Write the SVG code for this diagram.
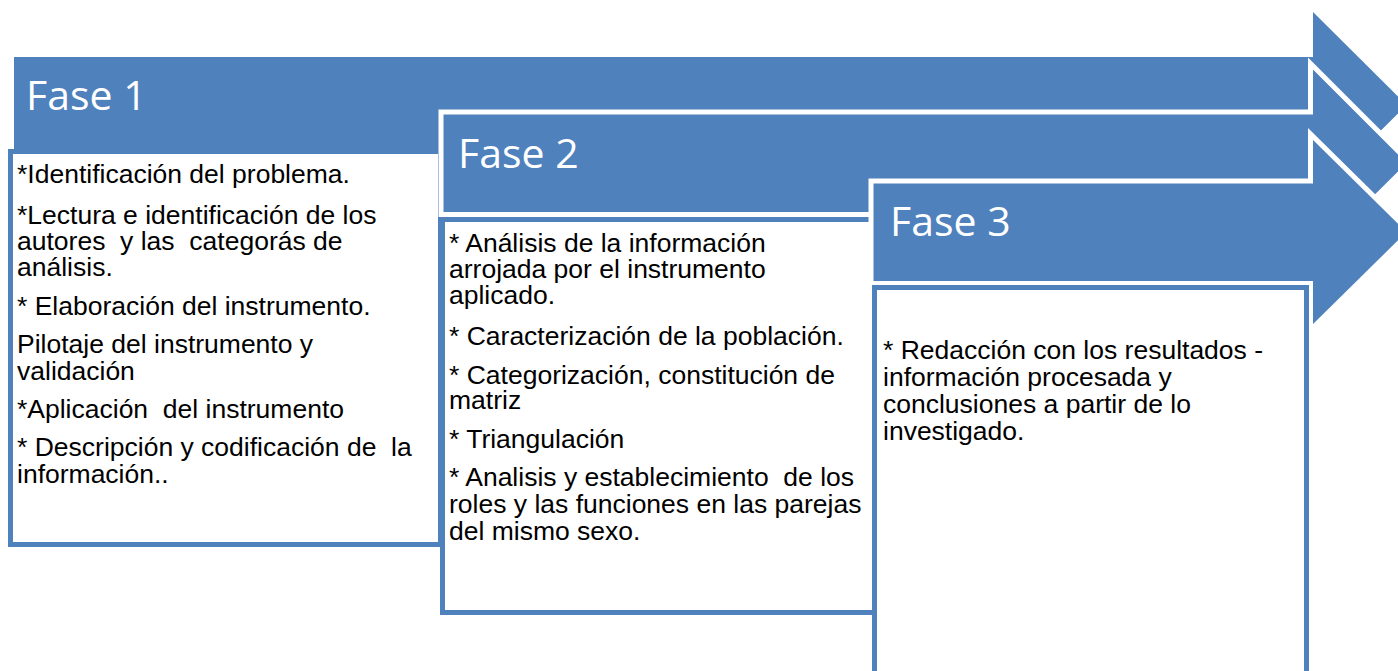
<svg xmlns="http://www.w3.org/2000/svg" width="1398" height="671" viewBox="0 0 1398 671">
<style>
.arrow{fill:#4F81BD;stroke:#FFFFFF;stroke-width:5;stroke-linejoin:miter}
.box{fill:#FFFFFF;stroke:#4F81BD;stroke-width:5}
.head{font-family:"Open Sans","Noto Sans",sans-serif;font-size:41px;fill:#FFFFFF}
.body{font-family:"Liberation Sans",Arial,sans-serif;font-size:26.5px;fill:#000000}
</style>
<rect width="1398" height="671" fill="#FFFFFF"/>
<g id="fase1">
<path class="arrow" d="M11.5,54.5 H1310.5 V6 L1410,105 L1310.5,204 V155.5 H11.5 Z"/>
<text class="head" x="26" y="110">Fase 1</text>
<rect class="box" x="10.5" y="151.5" width="430" height="393"/>
<text class="body" xml:space="preserve"><tspan x="17" y="183">*Identificación del problema.</tspan><tspan x="17" y="224">*Lectura e identificación de los</tspan><tspan x="17" y="250">autores  y las  categorás de</tspan><tspan x="17" y="276">análisis.</tspan><tspan x="17" y="315">* Elaboración del instrumento.</tspan><tspan x="17" y="353">Pilotaje del instrumento y</tspan><tspan x="17" y="380">validación</tspan><tspan x="17" y="418">*Aplicación  del instrumento</tspan><tspan x="17" y="456">* Descripción y codificación de  la</tspan><tspan x="17" y="483">información..</tspan></text>
</g>
<g id="fase2">
<path class="arrow" d="M441,112 H1310.5 V63.5 L1410,163 L1310.5,262 V214.5 H441 Z"/>
<text class="head" x="458" y="168">Fase 2</text>
<rect class="box" x="442.5" y="219.5" width="432" height="393"/>
<text class="body" xml:space="preserve"><tspan x="449" y="252">* Análisis de la información</tspan><tspan x="449" y="278">arrojada por el instrumento</tspan><tspan x="449" y="304">aplicado.</tspan><tspan x="449" y="345">* Caracterización de la población.</tspan><tspan x="449" y="384">* Categorización, constitución de</tspan><tspan x="449" y="409">matriz</tspan><tspan x="449" y="448">* Triangulación</tspan><tspan x="449" y="486">* Analisis y establecimiento  de los</tspan><tspan x="449" y="513">roles y las funciones en las parejas</tspan><tspan x="449" y="540">del mismo sexo.</tspan></text>
</g>
<g id="fase3">
<path class="arrow" d="M871,181 H1310.5 V134 L1410,232 L1310.5,330 V283.5 H871 Z"/>
<text class="head" x="890" y="236">Fase 3</text>
<rect class="box" x="874.5" y="287.5" width="432" height="393"/>
<text class="body" xml:space="preserve"><tspan x="883" y="359">* Redacción con los resultados -</tspan><tspan x="883" y="386">información procesada y</tspan><tspan x="883" y="413">conclusiones a partir de lo</tspan><tspan x="883" y="440">investigado.</tspan></text>
</g>
<g id="connectors"></g>
</svg>
